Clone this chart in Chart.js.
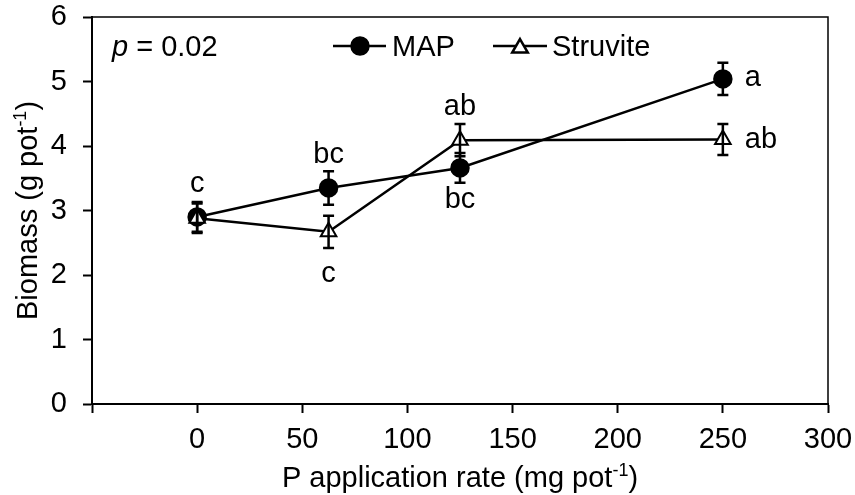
<!DOCTYPE html>
<html>
<head>
<meta charset="utf-8">
<script src="https://cdn.jsdelivr.net/npm/chart.js@4.4.1/dist/chart.umd.min.js"></script>
<style>
  body { margin: 0; background: #fff; }
  #wrap { width: 855px; height: 495px; }
</style>
</head>
<body>
<div id="wrap"><canvas id="myChart" width="855" height="495"></canvas></div>
<script>
// data
var rates = [0, 62.5, 125, 250];
var mapMeans = [2.90, 3.35, 3.66, 5.04];
var mapErr = [0.23, 0.26, 0.23, 0.25];
var mapLetters = ["c", "bc", "bc", "a"];
var struviteMeans = [2.88, 2.67, 4.09, 4.10];
var struviteErr = [0.23, 0.25, 0.25, 0.24];
var struviteLetters = ["", "c", "ab", "ab"];
var xTicks = [-50, 0, 50, 100, 150, 200, 250, 300];
var yTicks = [0, 1, 2, 3, 4, 5, 6];
var pValue = "0.02";

// where the letters sit relative to their point (px)
var mapLetterPos = [[0, -25, "center"], [0, -25, "center"], [0, 40, "center"], [22, 7, "left"]];
var struviteLetterPos = [null, [0, 50, "center"], [0, -25, "center"], [22, 8, "left"]];

var fontName = "'Liberation Sans', Arial, sans-serif";
var fontSize = 29;

function toPoints(xs, ys) {
  return xs.map(function (x, i) { return { x: x, y: ys[i] }; });
}

// text with a "-1" superscript in the middle
function supWidth(ctx, a, sup, b) {
  ctx.font = fontSize + "px " + fontName;
  var w = ctx.measureText(a).width + ctx.measureText(b).width;
  ctx.font = Math.round(fontSize * 0.62) + "px " + fontName;
  return w + ctx.measureText(sup).width;
}
function drawSup(ctx, a, sup, b, cx, y) {
  var x = cx - supWidth(ctx, a, sup, b) / 2;
  ctx.textAlign = "left";
  ctx.textBaseline = "alphabetic";
  ctx.font = fontSize + "px " + fontName;
  ctx.fillText(a, x, y);
  x += ctx.measureText(a).width;
  ctx.font = Math.round(fontSize * 0.62) + "px " + fontName;
  ctx.fillText(sup, x, y - fontSize * 0.38);
  x += ctx.measureText(sup).width;
  ctx.font = fontSize + "px " + fontName;
  ctx.fillText(b, x, y);
}

function drawMarker(ctx, style, x, y) {
  Chart.helpers.drawPoint(ctx, {
    pointStyle: style, radius: style === "circle" ? 8.5 : 9, rotation: 0, borderWidth: 2
  }, x, y);
}

var extras = {
  id: "extras",
  afterDatasetsDraw: function (chart) {
    // error bars on top of the markers
    var ctx = chart.ctx, xs = chart.scales.x, ys = chart.scales.y;
    ctx.save();
    ctx.strokeStyle = "#000";
    ctx.lineWidth = 2.5;
    [[mapMeans, mapErr], [struviteMeans, struviteErr]].forEach(function (s) {
      rates.forEach(function (r, i) {
        var px = xs.getPixelForValue(r);
        var top = ys.getPixelForValue(s[0][i] + s[1][i]);
        var bot = ys.getPixelForValue(s[0][i] - s[1][i]);
        ctx.beginPath();
        ctx.moveTo(px, top); ctx.lineTo(px, bot);
        ctx.moveTo(px - 5.5, top); ctx.lineTo(px + 5.5, top);
        ctx.moveTo(px - 5.5, bot); ctx.lineTo(px + 5.5, bot);
        ctx.stroke();
      });
    });
    ctx.restore();
  },
  afterDraw: function (chart) {
    var ctx = chart.ctx, xs = chart.scales.x, ys = chart.scales.y, a = chart.chartArea;
    ctx.save();
    ctx.fillStyle = "#000";
    ctx.strokeStyle = "#000";

    // top and right frame
    ctx.lineWidth = 1.5;
    ctx.beginPath();
    ctx.moveTo(a.left, a.top); ctx.lineTo(a.right, a.top); ctx.lineTo(a.right, a.bottom);
    ctx.stroke();

    // significance letters
    ctx.font = fontSize + "px " + fontName;
    ctx.textBaseline = "alphabetic";
    [[mapMeans, mapLetters, mapLetterPos], [struviteMeans, struviteLetters, struviteLetterPos]].forEach(function (s) {
      rates.forEach(function (r, i) {
        if (!s[1][i]) return;
        var p = s[2][i];
        ctx.textAlign = p[2];
        ctx.fillText(s[1][i], xs.getPixelForValue(r) + p[0], ys.getPixelForValue(s[0][i]) + p[1]);
      });
    });

    // p value
    ctx.textAlign = "left";
    ctx.font = "italic " + fontSize + "px " + fontName;
    ctx.fillText("p", 112, 56);
    var pw = ctx.measureText("p").width;
    ctx.font = fontSize + "px " + fontName;
    ctx.fillText(" = " + pValue, 112 + pw, 56);

    // legend
    ctx.lineWidth = 2.5;
    ctx.beginPath();
    ctx.moveTo(333, 46); ctx.lineTo(386, 46);
    ctx.moveTo(493, 46); ctx.lineTo(547, 46);
    ctx.stroke();
    ctx.fillStyle = "#000";
    drawMarker(ctx, "circle", 360, 46);
    ctx.fillStyle = "#fff";
    drawMarker(ctx, "triangle", 520, 48);
    ctx.fillStyle = "#000";
    ctx.fillText("MAP", 392, 56);
    ctx.fillText("Struvite", 552, 56);

    // axis titles
    drawSup(ctx, "P application rate (mg pot", "-1", ")", (a.left + a.right) / 2, 487);
    ctx.translate(37, (a.top + a.bottom) / 2);
    ctx.rotate(-Math.PI / 2);
    drawSup(ctx, "Biomass (g pot", "-1", ")", 0, 0);
    ctx.restore();
  }
};

var ctx = document.getElementById("myChart").getContext("2d");
var myChart = new Chart(ctx, {
  type: "line",
  data: {
    datasets: [
      {
        label: "MAP",
        data: toPoints(rates, mapMeans),
        borderColor: "#000",
        borderWidth: 2.5,
        pointStyle: "circle",
        pointRadius: 8.5,
        pointBackgroundColor: "#000",
        pointBorderColor: "#000",
        order: 1
      },
      {
        label: "Struvite",
        data: toPoints(rates, struviteMeans),
        borderColor: "#000",
        borderWidth: 2.5,
        pointStyle: "triangle",
        pointRadius: 9,
        pointBackgroundColor: "#fff",
        pointBorderColor: "#000",
        pointBorderWidth: 2,
        order: 0
      }
    ]
  },
  options: {
    responsive: false,
    animation: false,
    devicePixelRatio: 1,
    layout: { padding: { left: 0, right: 27, top: 17, bottom: 0 } },
    plugins: { legend: { display: false }, tooltip: { enabled: false } },
    scales: {
      x: {
        type: "linear",
        min: -50,
        max: 300,
        afterBuildTicks: function (axis) {
          axis.ticks = xTicks.map(function (v) { return { value: v }; });
        },
        afterFit: function (scale) {
          scale.height = 91;
          scale.paddingLeft = 0;
          scale.paddingRight = 0;
        },
        grid: { drawOnChartArea: false, tickLength: 9, tickColor: "#000", tickWidth: 2 },
        border: { color: "#000", width: 2 },
        ticks: {
          color: "#000",
          padding: 10,
          maxRotation: 0,
          font: { family: fontName, size: fontSize },
          callback: function (v) { return v === -50 ? "" : v; }
        }
      },
      y: {
        min: 0,
        max: 6,
        afterBuildTicks: function (axis) {
          axis.ticks = yTicks.map(function (v) { return { value: v }; });
        },
        afterFit: function (scale) {
          scale.width = 92;
          scale.paddingTop = 0;
          scale.paddingBottom = 0;
        },
        grid: { drawOnChartArea: false, tickLength: 9, tickColor: "#000", tickWidth: 2 },
        border: { color: "#000", width: 2 },
        ticks: {
          color: "#000",
          padding: 16,
          font: { family: fontName, size: fontSize }
        }
      }
    }
  },
  plugins: [extras]
});
</script>
</body>
</html>
